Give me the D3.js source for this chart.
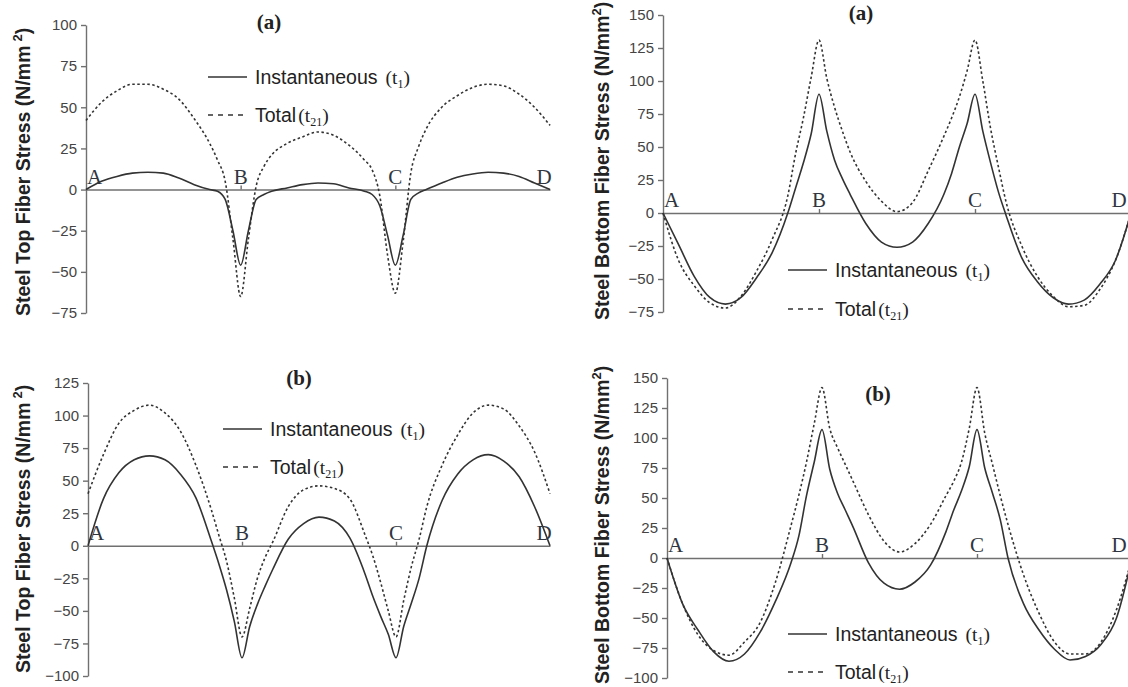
<!DOCTYPE html>
<html>
<head>
<meta charset="utf-8">
<script src="https://cdn.jsdelivr.net/npm/d3@7"></script>
<style>
  body { margin: 0; background: #fff; }
  svg { display: block; }
</style>
</head>
<body>
<div class="chart-holder"></div>
<script>
// Positions along the beam in spans (A = 0, B = 1, C = 2, D = 3)
const span_pos = [0, 0.1, 0.2, 0.3, 0.4, 0.5, 0.6, 0.7, 0.8,
  0.85, 0.9, 0.95, 1.0, 1.05, 1.1, 1.15, 1.2,
  1.3, 1.4, 1.5, 1.6, 1.7, 1.8,
  1.85, 1.9, 1.95, 2.0, 2.05, 2.1, 2.15, 2.2,
  2.3, 2.4, 2.5, 2.6, 2.7, 2.8, 2.9, 3.0];

const support_names = ['A', 'B', 'C', 'D'];

// (a) steel top fiber stress, N/mm2
const top_a_inst = [0, 5, 8, 10, 10.5, 10, 7, 3, 0,
  -1, -6, -25, -46, -25, -6, -3, -1,
  1, 3, 4, 3.5, 1, -1,
  -3, -10, -28, -46, -28, -6, -2, 0,
  4, 7.5, 9.5, 10.5, 10, 8, 4, 0];
const top_a_total = [42, 53, 60, 64, 64, 61, 55, 43, 28,
  18, 5, -30, -65, -30, 2, 14, 21,
  28, 32, 35, 33, 27, 18,
  12, -4, -40, -63, -32, 10, 26, 37,
  50, 57, 62, 64, 63, 58, 50, 39];

// (a) steel bottom fiber stress
const bot_a_inst = [0, -24, -48, -64, -69, -64, -49, -30, 0,
  19, 38, 60, 90, 62, 40, 26, 14,
  -8, -22, -26, -22, -8, 14,
  30, 50, 68, 90, 62, 38, 16, -2,
  -34, -52, -64, -69, -66, -54, -36, 0];
const bot_a_total = [0, -36, -55, -68, -72, -63, -44, -20, 13,
  45, 72, 103, 131, 102, 80, 62, 46,
  24, 9, 1, 8, 32, 58,
  72, 88, 108, 131, 100, 64, 35, 8,
  -25, -48, -63, -71, -70, -58, -36, 0];

// (b) steel top fiber stress
const top_b_inst = [0, 36, 56, 66, 69, 66, 55, 37, 4,
  -14, -34, -58, -86, -62, -45, -31, -18,
  5, 17, 22, 19, 6, -22,
  -39, -54, -68, -86, -62, -44, -25, 0,
  35, 55, 66, 70, 65, 53, 30, 0];
const top_b_total = [40, 70, 94, 104, 108, 102, 88, 62, 28,
  8, -12, -40, -70, -48, -25, -9, 3,
  30, 43, 46, 44, 36, 8,
  -8, -28, -50, -70, -42, -16, 5, 30,
  62, 85, 102, 108, 105, 92, 72, 40];

// (b) steel bottom fiber stress
const bot_b_inst = [0, -38, -60, -78, -86, -80, -62, -36, -4,
  18, 52, 80, 107, 74, 54, 40, 26,
  -4, -21, -26, -20, -6, 22,
  40, 56, 76, 107, 75, 54, 32, 0,
  -38, -60, -76, -85, -82, -72, -50, 0];
const bot_b_total = [0, -38, -64, -77, -81, -70, -54, -20, 27,
  52, 80, 112, 142, 108, 92, 78, 64,
  36, 14, 5, 12, 28, 52,
  64, 80, 108, 142, 104, 78, 52, 28,
  -14, -46, -70, -80, -80, -70, -43, 0];

// Tick values for the y axes
const ticks_top_a = [-75, -50, -25, 0, 25, 50, 75, 100];
const ticks_bot_a = [-75, -50, -25, 0, 25, 50, 75, 100, 125, 150];
const ticks_top_b = [-100, -75, -50, -25, 0, 25, 50, 75, 100, 125];
const ticks_bot_b = [-100, -75, -50, -25, 0, 25, 50, 75, 100, 125, 150];

const svg = d3.select('.chart-holder').append('svg')
  .attr('width', 1128)
  .attr('height', 687);

const line_color = '#333';
const axis_color = '#707070';
const sans = 'Liberation Sans, Arial, sans-serif';
const serif = 'Liberation Serif, Times New Roman, serif';

const panels = [
  { inst: top_a_inst, total: top_a_total, ticks: ticks_top_a,
    xr: [86, 550], yr: [313, 25], title: '(a)', tx: 269, ty: 29,
    ylab: 'Steel Top Fiber Stress (N/mm', gap: 4, lx: 30, ly: 316,
    legx: 208, legy: [77, 115] },
  { inst: bot_a_inst, total: bot_a_total, ticks: ticks_bot_a,
    xr: [663, 1131], yr: [312, 15], title: '(a)', tx: 861, ty: 20,
    ylab: 'Steel Bottom Fiber Stress (N/mm', gap: 0, lx: 609, ly: 320,
    legx: 788, legy: [270, 309] },
  { inst: top_b_inst, total: top_b_total, ticks: ticks_top_b,
    xr: [88, 550], yr: [676, 383], title: '(b)', tx: 299, ty: 385,
    ylab: 'Steel Top Fiber Stress (N/mm', gap: 4, lx: 30, ly: 673,
    legx: 223, legy: [429, 467] },
  { inst: bot_b_inst, total: bot_b_total, ticks: ticks_bot_b,
    xr: [667, 1132], yr: [678, 378], title: '(b)', tx: 878, ty: 401,
    ylab: 'Steel Bottom Fiber Stress (N/mm', gap: 0, lx: 609, ly: 684,
    legx: 788, legy: [634, 672] }
];

panels.forEach(p => {
  const g = svg.append('g');

  const x = d3.scaleLinear().domain([0, 3]).range(p.xr);
  const y = d3.scaleLinear()
    .domain([d3.min(p.ticks), d3.max(p.ticks)])
    .range(p.yr);

  // y axis
  const yAxis = g.append('g')
    .attr('transform', 'translate(' + p.xr[0] + ',0)')
    .call(d3.axisLeft(y).tickValues(p.ticks).tickSize(5).tickSizeOuter(0).tickPadding(4));
  yAxis.selectAll('path, line').attr('stroke', axis_color).attr('stroke-width', 1.4);
  yAxis.selectAll('text')
    .attr('fill', '#444')
    .style('font-family', sans)
    .style('font-size', '15px');

  // zero line with supports
  const xAxis = g.append('g')
    .attr('transform', 'translate(0,' + y(0) + ')')
    .call(d3.axisTop(x).tickValues([1, 2]).tickSize(4).tickSizeOuter(0).tickFormat(''));
  xAxis.selectAll('path, line').attr('stroke', axis_color).attr('stroke-width', 1.4);

  g.selectAll('.support')
    .data(support_names)
    .enter().append('text')
    .attr('x', (d, i) => i === 0 ? x(i) + 1 : (i === 3 ? Math.min(x(i) - 6, 1119) : x(i)))
    .attr('y', y(0) - 6)
    .attr('text-anchor', (d, i) => i === 0 ? 'start' : 'middle')
    .attr('fill', '#2f3640')
    .style('font-family', serif)
    .style('font-size', '21px')
    .text(d => d);

  // curves
  const line = d3.line()
    .x((d, i) => x(span_pos[i]))
    .y(d => y(d))
    .curve(d3.curveMonotoneX);

  g.append('path')
    .datum(p.total)
    .attr('fill', 'none')
    .attr('stroke', line_color)
    .attr('stroke-width', 1.6)
    .attr('stroke-dasharray', '2.5,2.5')
    .attr('d', line);

  g.append('path')
    .datum(p.inst)
    .attr('fill', 'none')
    .attr('stroke', line_color)
    .attr('stroke-width', 1.6)
    .attr('d', line);

  // panel title
  g.append('text')
    .attr('x', p.tx)
    .attr('y', p.ty)
    .attr('text-anchor', 'middle')
    .attr('fill', '#222')
    .style('font-family', serif)
    .style('font-weight', 'bold')
    .style('font-size', '21px')
    .text(p.title);

  // y axis title
  const yl = g.append('text')
    .attr('transform', 'translate(' + p.lx + ',' + p.ly + ') rotate(-90)')
    .attr('fill', '#222')
    .style('font-family', sans)
    .style('font-weight', 'bold')
    .style('font-size', '19.5px');
  yl.append('tspan').text(p.ylab);
  yl.append('tspan').attr('dx', p.gap).attr('dy', -8).style('font-size', '13px').text('2');
  yl.append('tspan').attr('dy', 8).text(')');

  // legend
  const leg = g.append('g');
  leg.append('line')
    .attr('x1', p.legx).attr('x2', p.legx + 39)
    .attr('y1', p.legy[0]).attr('y2', p.legy[0])
    .attr('stroke', line_color).attr('stroke-width', 1.6);
  leg.append('line')
    .attr('x1', p.legx).attr('x2', p.legx + 39)
    .attr('y1', p.legy[1]).attr('y2', p.legy[1])
    .attr('stroke', line_color).attr('stroke-width', 1.6)
    .attr('stroke-dasharray', '5,5');

  const t1 = leg.append('text')
    .attr('x', p.legx + 47)
    .attr('y', p.legy[0] + 7)
    .attr('fill', '#222')
    .style('font-family', sans)
    .style('font-size', '19.5px');
  t1.append('tspan').text('Instantaneous');
  t1.append('tspan').attr('dx', 8).style('font-family', serif).text('(t');
  t1.append('tspan').attr('dy', 4).style('font-family', serif).style('font-size', '12px').text('1');
  t1.append('tspan').attr('dy', -4).style('font-family', serif).text(')');

  const t2 = leg.append('text')
    .attr('x', p.legx + 47)
    .attr('y', p.legy[1] + 7)
    .attr('fill', '#222')
    .style('font-family', sans)
    .style('font-size', '19.5px');
  t2.append('tspan').text('Total');
  t2.append('tspan').attr('dx', 2).style('font-family', serif).text('(t');
  t2.append('tspan').attr('dy', 4).style('font-family', serif).style('font-size', '12px').text('21');
  t2.append('tspan').attr('dy', -4).style('font-family', serif).text(')');
});
</script>
</body>
</html>
